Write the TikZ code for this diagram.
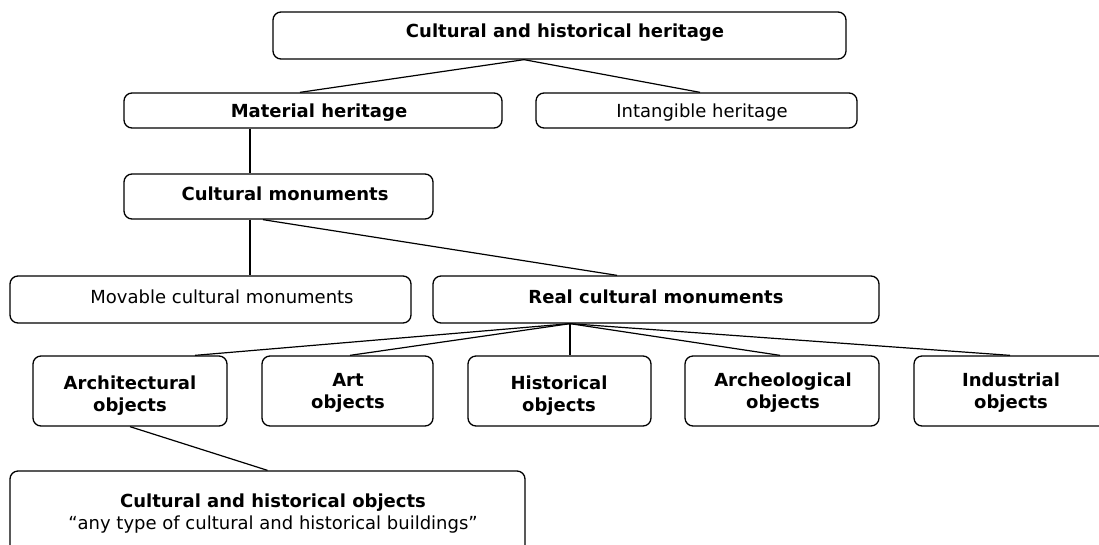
\documentclass[tikz,border=0pt]{standalone}
\usepackage{fontspec}
\setmainfont{DejaVu Sans}
\begin{document}
\begin{tikzpicture}[x=1pt,y=-1pt,
  box/.style={draw, line width=1.3pt, rounded corners=8pt, inner sep=0pt},
  txt/.style={inner sep=0pt, align=center, font=\fontsize{18}{22}\selectfont},
  conn/.style={line width=1.2pt}]
\clip (0,0) rectangle (1099,544);
% boxes
\node[box, minimum width=573, minimum height=47] (top) at (559.5,35.5) {};
\node[box, minimum width=378, minimum height=35] (mat) at (313,110.5) {};
\node[box, minimum width=321, minimum height=35] (int) at (696.5,110.5) {};
\node[box, minimum width=309, minimum height=45] (cm) at (278.5,196.5) {};
\node[box, minimum width=401, minimum height=47] (mov) at (210.5,299.5) {};
\node[box, minimum width=446, minimum height=47] (real) at (656,299.5) {};
\node[box, minimum width=194, minimum height=70] (arch) at (130,391) {};
\node[box, minimum width=171, minimum height=70] (art) at (347.5,391) {};
\node[box, minimum width=183, minimum height=70] (hist) at (559.5,391) {};
\node[box, minimum width=194, minimum height=70] (arc) at (782,391) {};
\node[box, minimum width=194, minimum height=70] (ind) at (1011,391) {};
\node[box, minimum width=515, minimum height=84] (cobj) at (267.5,513) {};
% texts
\node[txt] (top-t) at (565,33) {\textbf{Cultural and historical heritage}};
\node[txt] (mat-t) at (319,113) {\textbf{Material heritage}};
\node[txt] (int-t) at (702,113) {Intangible heritage};
\node[txt] (cm-t) at (285,194) {\textbf{Cultural monuments}};
\node[txt] (mov-t) at (222,297) {Movable cultural monuments};
\node[txt] (real-t) at (656,297) {\textbf{Real cultural monuments}};
\node[txt] (arch-t) at (130,396) {\textbf{Architectural}\\\textbf{objects}};
\node[txt] (art-t) at (348,393) {\textbf{Art}\\\textbf{objects}};
\node[txt] (hist-t) at (559,396) {\textbf{Historical}\\\textbf{objects}};
\node[txt] (arc-t) at (783,393) {\textbf{Archeological}\\\textbf{objects}};
\node[txt] (ind-t) at (1011,393) {\textbf{Industrial}\\\textbf{objects}};
\node[txt] (cobj-t) at (273,513.5) {\textbf{Cultural and historical objects}\\“any type of cultural and historical buildings”};
% connectors
\draw[conn] ([xshift=-35.5]top.south) -- ([xshift=-13]mat.north);
\draw[conn] ([xshift=-35.5]top.south) -- ([xshift=3.5]int.north);
\draw[conn] ([xshift=-63]mat.south) -- ([xshift=-28.5]cm.north);
\draw[conn] ([xshift=-28.5]cm.south) -- ([xshift=39.5]mov.north);
\draw[conn] ([xshift=-15.5]cm.south) -- ([xshift=-39]real.north);
\draw[conn] ([xshift=-86]real.south) -- ([xshift=65]arch.north);
\draw[conn] ([xshift=-86]real.south) -- ([xshift=2.5]art.north);
\draw[conn] ([xshift=-86]real.south) -- ([xshift=10.5]hist.north);
\draw[conn] ([xshift=-86]real.south) -- ([xshift=-2]arc.north);
\draw[conn] ([xshift=-86]real.south) -- ([xshift=-1]ind.north);
\draw[conn] (arch.south) -- (cobj.north);
\end{tikzpicture}
\end{document}
